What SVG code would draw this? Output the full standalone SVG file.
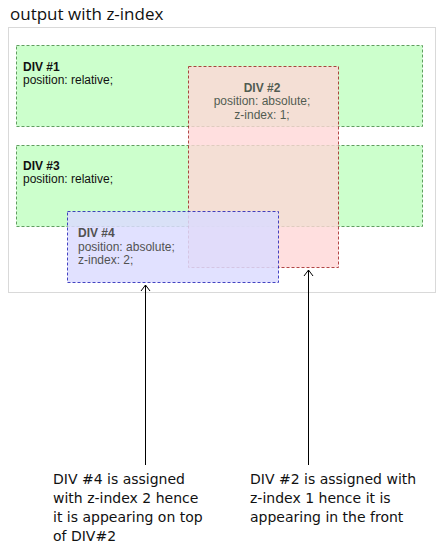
<svg xmlns="http://www.w3.org/2000/svg" width="447" height="560" viewBox="0 0 447 560">
<defs>
<style>
.title{font-family:"Open Sans",sans-serif;font-size:17px;fill:#111}
.frame{fill:#fff;stroke:#d9d9d9;stroke-width:1}
.green{fill:#ccffcc;stroke:#5f9f5f;stroke-width:1;stroke-dasharray:3,2}
.red{fill:#ffd8d8;stroke:#a01818;stroke-width:1;stroke-dasharray:3,2}
.blue{fill:#dcdcff;stroke:#2424b8;stroke-width:1;stroke-dasharray:3,2}
.lbl{font-family:"Liberation Sans",Arial,sans-serif;font-size:12px;fill:#111}
.dim{fill:#333}
.b{font-weight:bold}
.note{font-family:"DejaVu Sans",Verdana,sans-serif;font-size:14px;fill:#111}
.conn{stroke:#000;stroke-width:1;fill:none}
</style>
</defs>
<text class="title" x="10" y="20">output with z-index</text>
<rect class="frame" x="8.5" y="27.5" width="427" height="265"/>
<g id="div1">
<rect class="green" x="16.5" y="45.5" width="406" height="81"/>
<text class="lbl b" x="23" y="71">DIV #1</text>
<text class="lbl" x="23" y="84">position: relative;</text>
</g>
<g id="div3">
<rect class="green" x="16.5" y="145.5" width="406" height="81"/>
<text class="lbl b" x="23" y="170">DIV #3</text>
<text class="lbl" x="23" y="183">position: relative;</text>
</g>
<g id="div2" opacity="0.8">
<rect class="red" x="188.5" y="66.5" width="150" height="201"/>
<text class="lbl dim b" x="262" y="92" text-anchor="middle">DIV #2</text>
<text class="lbl dim" x="262" y="105" text-anchor="middle">position: absolute;</text>
<text class="lbl dim" x="262" y="119" text-anchor="middle">z-index: 1;</text>
</g>
<g id="div4" opacity="0.85">
<rect class="blue" x="67.5" y="211.5" width="211" height="71"/>
<text class="lbl dim b" x="78" y="237">DIV #4</text>
<text class="lbl dim" x="78" y="251">position: absolute;</text>
<text class="lbl dim" x="78" y="264">z-index: 2;</text>
</g>
<g id="connectors">
<line class="conn" x1="145.5" y1="285" x2="145.5" y2="465"/>
<polyline class="conn" points="141,291 145.5,285 150,291"/>
<line class="conn" x1="308.5" y1="270" x2="308.5" y2="465"/>
<polyline class="conn" points="304,276 308.5,270 313,276"/>
</g>
<g id="note4">
<text class="note" x="53" y="484">DIV #4 is assigned</text>
<text class="note" x="53" y="503">with z-index 2 hence</text>
<text class="note" x="53" y="522">it is appearing on top</text>
<text class="note" x="53" y="541">of DIV#2</text>
</g>
<g id="note2">
<text class="note" x="250" y="484">DIV #2 is assigned with</text>
<text class="note" x="250" y="503">z-index 1 hence it is</text>
<text class="note" x="250" y="522">appearing in the front</text>
</g>
</svg>
